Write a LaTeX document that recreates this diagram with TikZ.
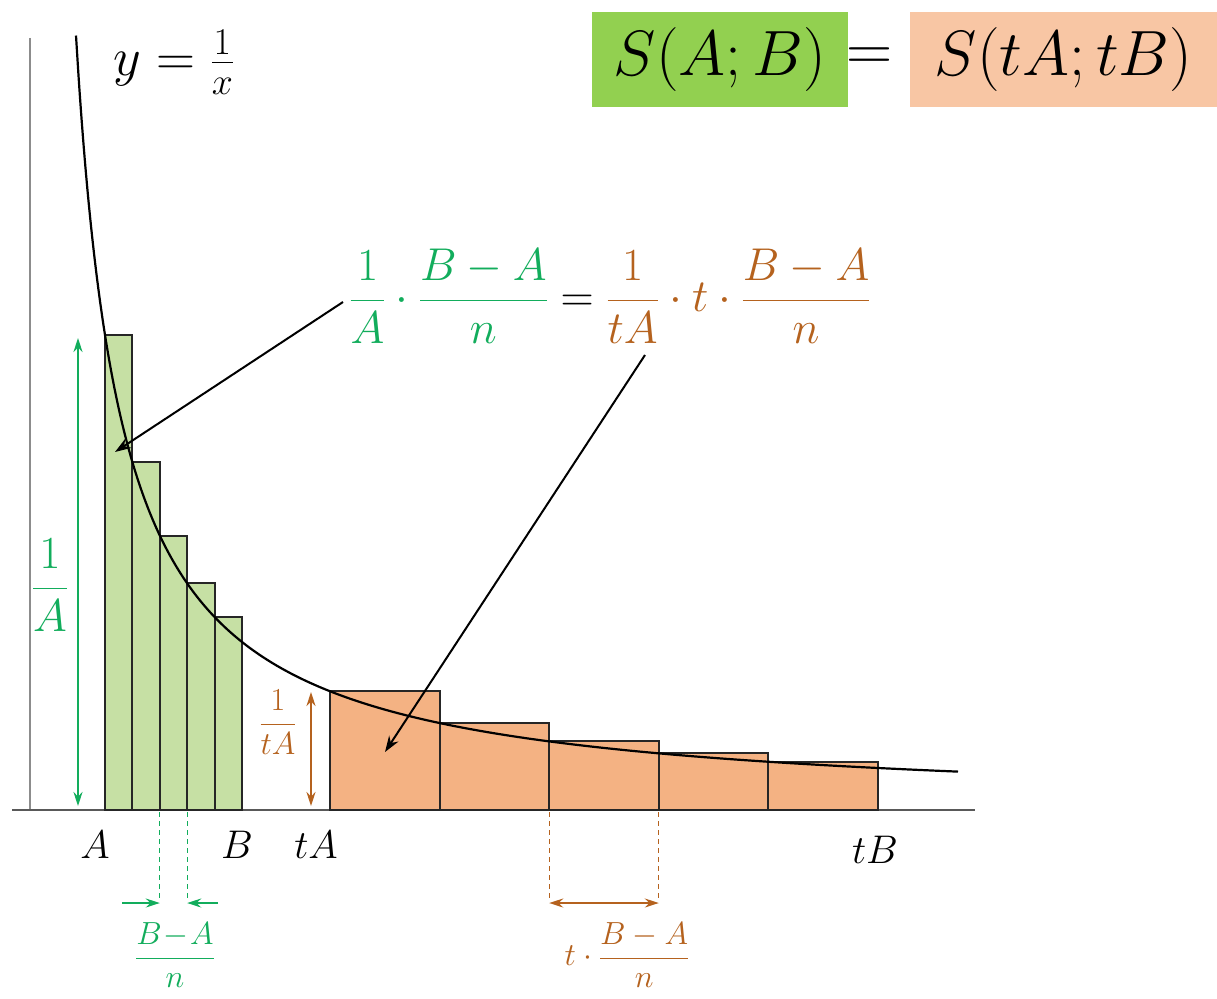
\RequirePackage{fix-cm}
\documentclass[tikz,border=0pt]{standalone}
\usetikzlibrary{arrows.meta}
\definecolor{gfill}{HTML}{C6E0A4}
\definecolor{ofill}{HTML}{F4B283}
\definecolor{gbox}{HTML}{92D050}
\definecolor{obox}{HTML}{F8C6A4}
\definecolor{eqg}{HTML}{12AD5C}
\definecolor{eqb}{HTML}{B5621E}
\newcommand{\dfr}[2]{{\displaystyle\frac{#1}{#2}}}
\newcommand{\tfr}[2]{{\textstyle\frac{#1}{#2}}}
\begin{document}
\begin{tikzpicture}[x=1pt,y=-1pt,
  grect/.style={fill=gfill,draw=black!85,line width=2pt},
  orect/.style={fill=ofill,draw=black!85,line width=2pt},
  fbig/.style={font=\fontsize{64}{72}\selectfont,inner sep=0pt},
  feq/.style={font=\fontsize{46}{52}\selectfont,inner sep=0pt},
  flbl/.style={font=\fontsize{40}{46}\selectfont,inner sep=0pt},
  fsmall/.style={font=\fontsize{32}{38}\selectfont,inner sep=0pt},
  gdim/.style={draw=eqg,line width=1.8pt},
  bdim/.style={draw=eqb,line width=1.8pt},
  tip/.style={-{Stealth[length=14pt,width=9pt]}},
  dtip/.style={{Stealth[length=14pt,width=9pt]}-{Stealth[length=14pt,width=9pt]}},
  dashln/.style={line width=1.3pt,dash pattern=on 5pt off 4pt},
  callout/.style={draw=black,line width=2pt,-{Stealth[length=16pt,width=11pt]}}]
\useasboundingbox (0,0) rectangle (1217,998);
\fill[white] (0,0) rectangle (1217,998);

% axes
\draw[black!45,line width=1.6pt] (30,38) -- (30,810);
\draw[black!65,line width=2pt] (12,810) -- (975,810);

% green rectangles
\draw[grect] (105,810) rectangle (132.4,335);
\draw[grect] (132.4,810) rectangle (159.8,462.1);
\draw[grect] (159.8,810) rectangle (187.2,535.5);
\draw[grect] (187.2,810) rectangle (214.6,583.4);
\draw[grect] (214.6,810) rectangle (242,617);

% orange rectangles
\draw[orect] (330,810) rectangle (439.6,691.25);
\draw[orect] (439.6,810) rectangle (549.2,723);
\draw[orect] (549.2,810) rectangle (658.8,741.4);
\draw[orect] (658.8,810) rectangle (768.4,753.3);
\draw[orect] (768.4,810) rectangle (878,761.75);

% curve y = 1/x
\draw[black,line width=2.2pt] plot[domain=76:958,samples=300,smooth] (\x,{810-356.25/((\x-30)/100)});

% curve label
\node[font=\fontsize{54}{60}\selectfont,inner sep=0pt] (ylab) at (174,62) {$y=\tfr{1}{x}$};

% top boxes
\node[fbig,fill=gbox,minimum width=256pt,minimum height=95pt] (sab) at (720,59.5) {$S(A;B)$};
\node[fbig] (eqsign) at (870,59.5) {$=$};
\node[fbig,fill=obox,minimum width=307pt,minimum height=95pt] (stab) at (1063.5,59.5) {$S(tA;tB)$};

% central equation
\node[feq] (eq) at (610,296) {$\color{eqg}\dfr{1}{A}\cdot\dfr{B-A}{n}\color{black}=\color{eqb}\dfr{1}{tA}\cdot t\cdot\dfr{B-A}{n}$};
\coordinate (s1) at (343,302);
\coordinate (p1) at (115,452);
\coordinate (s2) at (645,355);
\coordinate (p2) at (385,752);
\draw[callout] (s1) -- (p1);
\draw[callout] (s2) -- (p2);

% height 1/A
\draw[gdim,dtip] (78,338) -- (78,806);
\node[font=\fontsize{46}{52}\selectfont,inner sep=0pt,text=eqg] (hA) at (50,585) {$\dfr{1}{A}$};

% height 1/tA
\draw[bdim,dtip] (311,692) -- (311,806);
\node[fsmall,text=eqb] (htA) at (278,722) {$\dfr{1}{tA}$};

% axis labels
\node[flbl] (lA) at (95,845) {$A$};
\node[flbl] (lB) at (237,845) {$B$};
\node[flbl] (ltA) at (316,845) {$tA$};
\node[flbl] (ltB) at (875,850) {$tB$};

% green width marker
\draw[gdim,dashln] (159.8,812) -- (159.8,900);
\draw[gdim,dashln] (187.2,812) -- (187.2,900);
\draw[gdim,tip] (122,903) -- (159.8,903);
\draw[gdim,tip] (218,903) -- (187.2,903);
\node[fsmall,text=eqg] (wg) at (175,955) {$\dfr{B\!-\!A}{n}$};

% brown width marker
\draw[bdim,dashln] (549.2,812) -- (549.2,900);
\draw[bdim,dashln] (658.8,812) -- (658.8,900);
\draw[bdim,dtip] (549.2,903) -- (658.8,903);
\node[fsmall,text=eqb] (wb) at (627,955) {$t\cdot\dfr{B-A}{n}$};
\end{tikzpicture}
\end{document}
